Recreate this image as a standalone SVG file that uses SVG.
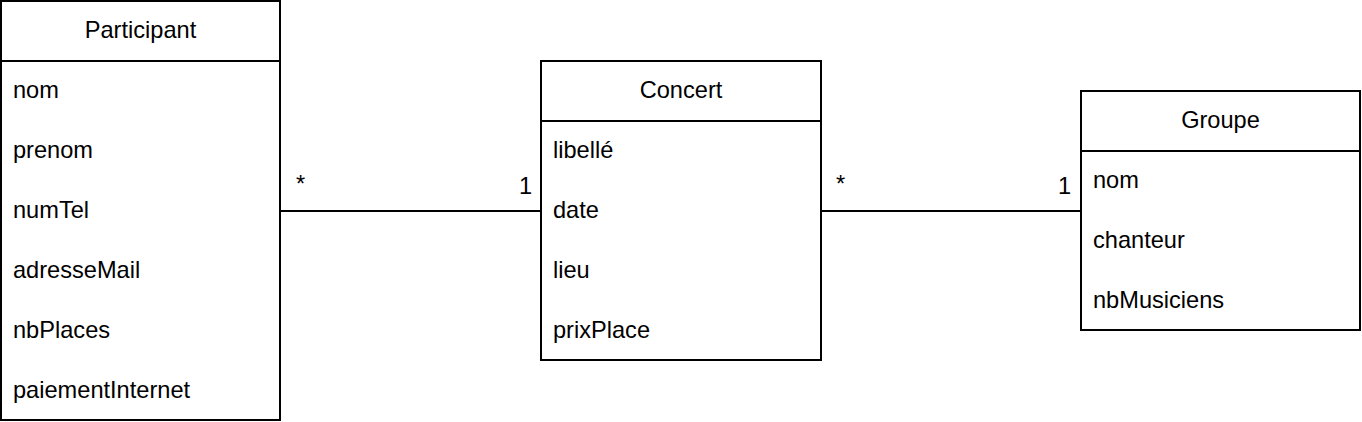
<svg xmlns="http://www.w3.org/2000/svg" width="1362" height="422" viewBox="0 0 1362 422">
<style>
.box{fill:#fff;stroke:#000;stroke-width:2}
.sep{stroke:#000;stroke-width:2}
.edge{stroke:#000;stroke-width:2;fill:none}
text{font-family:"Liberation Sans",Arial,Helvetica,sans-serif;font-size:23.6px;fill:#000}
.hd{text-anchor:middle}
</style>
<rect width="1362" height="422" fill="#fff"/>
<g id="connectors">
<line class="edge" x1="281" y1="211" x2="541" y2="211"/>
<line class="edge" x1="821" y1="211" x2="1081" y2="211"/>
<text x="296" y="192">*</text>
<text x="519" y="194">1</text>
<text x="836" y="192">*</text>
<text x="1058" y="194">1</text>
</g>
<g id="participant">
<rect class="box" x="1" y="1" width="279" height="419"/>
<line class="sep" x1="1" y1="61" x2="280" y2="61"/>
<text class="hd" x="140.5" y="38">Participant</text>
<text x="13" y="98">nom</text>
<text x="13" y="158">prenom</text>
<text x="13" y="218">numTel</text>
<text x="13" y="278">adresseMail</text>
<text x="13" y="338">nbPlaces</text>
<text x="13" y="398">paiementInternet</text>
</g>
<g id="concert">
<rect class="box" x="541" y="61" width="280" height="299"/>
<line class="sep" x1="541" y1="121" x2="821" y2="121"/>
<text class="hd" x="681" y="98">Concert</text>
<text x="553" y="158">libellé</text>
<text x="553" y="218">date</text>
<text x="553" y="278">lieu</text>
<text x="553" y="338">prixPlace</text>
</g>
<g id="groupe">
<rect class="box" x="1081" y="91" width="279" height="239"/>
<line class="sep" x1="1081" y1="151" x2="1360" y2="151"/>
<text class="hd" x="1220.5" y="128">Groupe</text>
<text x="1093" y="188">nom</text>
<text x="1093" y="248">chanteur</text>
<text x="1093" y="308">nbMusiciens</text>
</g>
</svg>
